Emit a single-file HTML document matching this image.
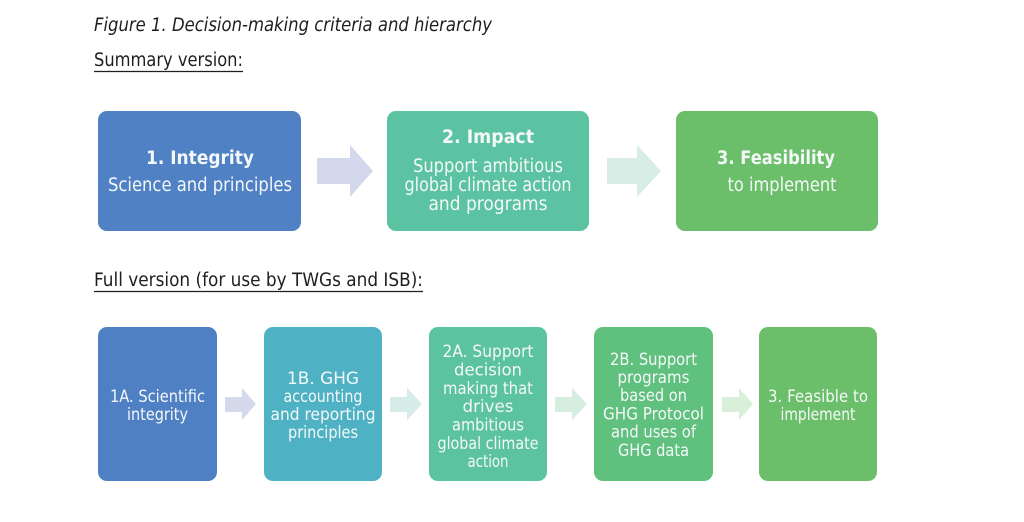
<!DOCTYPE html>
<html>
<head>
<meta charset="utf-8">
<style>
html,body{margin:0;padding:0;background:#fff;}
svg{display:block;}
text{font-family:"DejaVu Sans","Liberation Sans",sans-serif;}
.w{fill:#f4f8f8;text-anchor:middle;}
</style>
</head>
<body>
<svg width="1024" height="522" viewBox="0 0 1024 522" xmlns="http://www.w3.org/2000/svg">
<rect width="1024" height="522" fill="#fff"/>

<text x="94" y="31" font-size="18.5" font-style="italic" fill="#1e1e1e" textLength="398" lengthAdjust="spacingAndGlyphs">Figure 1. Decision-making criteria and hierarchy</text>
<text x="94" y="66" font-size="18.5" fill="#1e1e1e" textLength="149" lengthAdjust="spacingAndGlyphs">Summary version:</text>
<line x1="94" y1="71.5" x2="243" y2="71.5" stroke="#1e1e1e" stroke-width="1.3"/>
<text x="94" y="286" font-size="18.5" fill="#1e1e1e" textLength="329" lengthAdjust="spacingAndGlyphs">Full version (for use by TWGs and ISB):</text>
<line x1="94" y1="291.5" x2="423" y2="291.5" stroke="#1e1e1e" stroke-width="1.3"/>

<!-- Summary boxes -->
<rect x="98" y="111" width="203" height="120" rx="9" fill="#4f81c4"/>
<rect x="387" y="111" width="202" height="120" rx="9" fill="#5bc3a1"/>
<rect x="676" y="111" width="202" height="120" rx="9" fill="#6cbf6a"/>

<polygon points="317,158 350,158 350,145 373,171 350,197 350,184 317,184" fill="#d4d8ec"/>
<polygon points="607,158 637,158 637,145 661,171 637,197 637,184 607,184" fill="#d8ede5"/>

<g font-size="18.5">
<text class="w" x="200" y="164" font-weight="bold" textLength="108" lengthAdjust="spacingAndGlyphs">1. Integrity</text>
<text class="w" x="200" y="191" textLength="184" lengthAdjust="spacingAndGlyphs">Science and principles</text>

<text class="w" x="488" y="143" font-weight="bold" textLength="92" lengthAdjust="spacingAndGlyphs">2. Impact</text>
<text class="w" x="488" y="172" textLength="150" lengthAdjust="spacingAndGlyphs">Support ambitious</text>
<text class="w" x="488" y="191" textLength="167" lengthAdjust="spacingAndGlyphs">global climate action</text>
<text class="w" x="488" y="210" textLength="119" lengthAdjust="spacingAndGlyphs">and programs</text>

<text class="w" x="776" y="164" font-weight="bold" textLength="118" lengthAdjust="spacingAndGlyphs">3. Feasibility</text>
<text class="w" x="782" y="191" textLength="109" lengthAdjust="spacingAndGlyphs">to implement</text>
</g>

<!-- Full version boxes -->
<rect x="98" y="327" width="119" height="154" rx="9" fill="#4f80c4"/>
<rect x="264" y="327" width="118" height="154" rx="9" fill="#4fb2c4"/>
<rect x="429" y="327" width="118" height="154" rx="9" fill="#5bc3a0"/>
<rect x="594" y="327" width="119" height="154" rx="9" fill="#60c07e"/>
<rect x="759" y="327" width="118" height="154" rx="9" fill="#6cbf6a"/>

<polygon points="225,397 242,397 242,388 256,404 242,420 242,412 225,412" fill="#d4d9eb"/>
<polygon points="390,397 407,397 407,388 422,404 407,420 407,412 390,412" fill="#d5ece8"/>
<polygon points="555,397 572,397 572,388 587,404 572,420 572,412 555,412" fill="#d5eee0"/>
<polygon points="722,397 739,397 739,388 753,404 739,420 739,412 722,412" fill="#d9efd9"/>

<g font-size="17">
<text class="w" x="157.5" y="402" textLength="95" lengthAdjust="spacingAndGlyphs">1A. Scientific</text>
<text class="w" x="157.5" y="420" textLength="61" lengthAdjust="spacingAndGlyphs">integrity</text>

<text class="w" x="323" y="384" textLength="72" lengthAdjust="spacingAndGlyphs">1B. GHG</text>
<text class="w" x="323" y="402" textLength="79" lengthAdjust="spacingAndGlyphs">accounting</text>
<text class="w" x="323" y="420" textLength="105" lengthAdjust="spacingAndGlyphs">and reporting</text>
<text class="w" x="323" y="438" textLength="70" lengthAdjust="spacingAndGlyphs">principles</text>

<text class="w" x="488" y="357" textLength="91" lengthAdjust="spacingAndGlyphs">2A. Support</text>
<text class="w" x="488" y="375.5" textLength="68" lengthAdjust="spacingAndGlyphs">decision</text>
<text class="w" x="488" y="394" textLength="90" lengthAdjust="spacingAndGlyphs">making that</text>
<text class="w" x="488" y="412" textLength="51" lengthAdjust="spacingAndGlyphs">drives</text>
<text class="w" x="488" y="430.5" textLength="72" lengthAdjust="spacingAndGlyphs">ambitious</text>
<text class="w" x="488" y="449" textLength="101" lengthAdjust="spacingAndGlyphs">global climate</text>
<text class="w" x="488" y="467" textLength="41" lengthAdjust="spacingAndGlyphs">action</text>

<text class="w" x="653.5" y="365" textLength="87" lengthAdjust="spacingAndGlyphs">2B. Support</text>
<text class="w" x="653.5" y="383" textLength="72" lengthAdjust="spacingAndGlyphs">programs</text>
<text class="w" x="653.5" y="401" textLength="67" lengthAdjust="spacingAndGlyphs">based on</text>
<text class="w" x="653.5" y="419.5" textLength="101" lengthAdjust="spacingAndGlyphs">GHG Protocol</text>
<text class="w" x="653.5" y="437.5" textLength="85" lengthAdjust="spacingAndGlyphs">and uses of</text>
<text class="w" x="653.5" y="456" textLength="71" lengthAdjust="spacingAndGlyphs">GHG data</text>

<text class="w" x="818" y="402" textLength="100" lengthAdjust="spacingAndGlyphs">3. Feasible to</text>
<text class="w" x="818" y="420" textLength="75" lengthAdjust="spacingAndGlyphs">implement</text>
</g>
</svg>
</body>
</html>
